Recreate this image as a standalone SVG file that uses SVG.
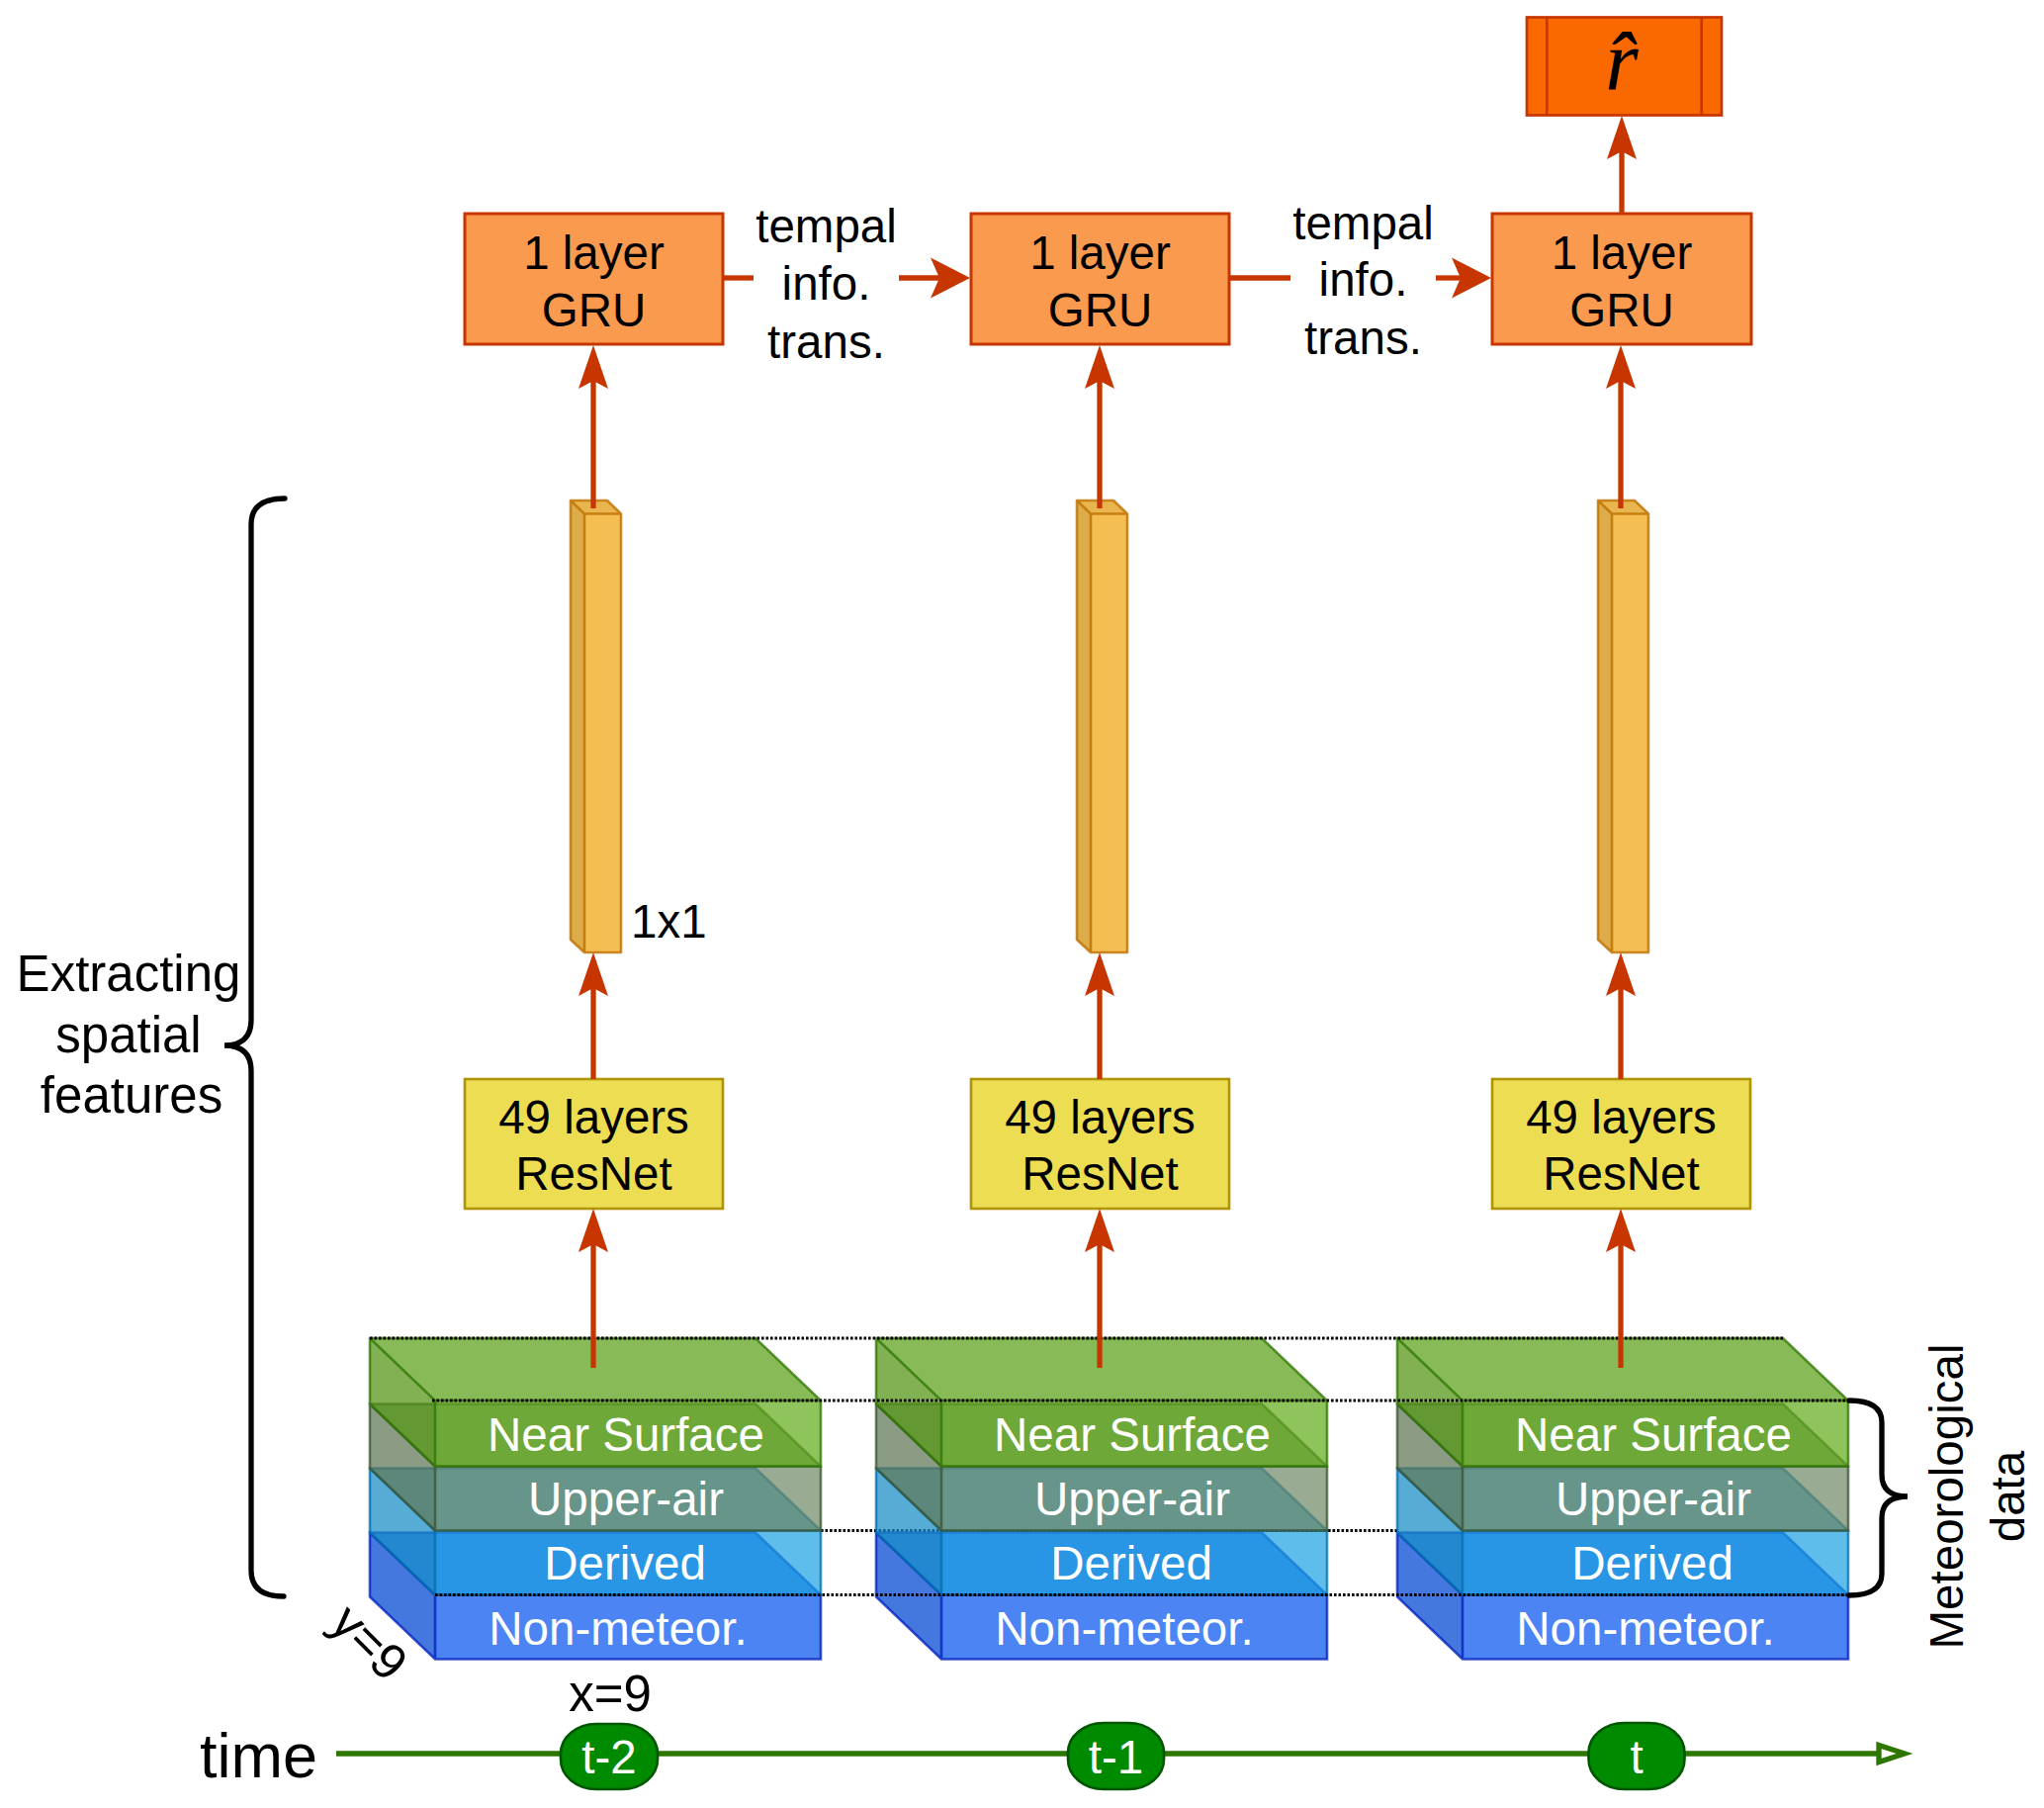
<svg xmlns="http://www.w3.org/2000/svg" width="2067" height="1828" viewBox="0 0 2067 1828">
<style>
text{font-family:"Liberation Sans",Arial,Helvetica,sans-serif;font-size:47.5px;fill:#000}
.mid{text-anchor:middle}
.w{fill:#fff}
.big{font-size:51px}
.gru{fill:#FA9A4F;stroke:#C73500;stroke-width:3}
.res{fill:#ECDD52;stroke:#B09500;stroke-width:2.6}
.vecf{fill:#F0A30A;fill-opacity:.7}
.vecs{fill:none;stroke:#BD7000;stroke-opacity:.8;stroke-width:2.6;stroke-linejoin:round}
.dk1{fill:#000;fill-opacity:.09}
.dk2{fill:#000;fill-opacity:.045}
.ns{fill:#60A917;fill-opacity:.7}
.nss{fill:none;stroke:#2D7600;stroke-opacity:.75;stroke-width:2.6}
.ua{fill:#6D8764;fill-opacity:.7}
.uas{fill:none;stroke:#3A5431;stroke-opacity:.75;stroke-width:2.6}
.dv{fill:#1BA1E2;fill-opacity:.7}
.dvs{fill:none;stroke:#006EAF;stroke-opacity:.75;stroke-width:2.6}
.nm{fill:#0050EF;fill-opacity:.7}
.nms{fill:none;stroke:#001DBC;stroke-opacity:.75;stroke-width:2.6}
.dot{fill:none;stroke:#000;stroke-width:3;stroke-dasharray:2.6 1.9}
.arr{fill:none;stroke:#C73500;stroke-width:5.3}
.brace{fill:none;stroke:#000;stroke-width:5.3;stroke-linecap:round}
.pill{fill:#008A00;stroke:#005700;stroke-width:2.6}
</style>
<defs>
<marker id="ahV" viewBox="-9 -16 46 32" markerWidth="46" markerHeight="32" refX="0" refY="0" markerUnits="userSpaceOnUse" orient="auto" overflow="visible">
<path d="M36,0 L-8,-15 L0,0 L-8,15 Z" fill="#C73500"/>
</marker>
<marker id="ahH" viewBox="-10 -22 43 44" markerWidth="43" markerHeight="44" refX="0" refY="0" markerUnits="userSpaceOnUse" orient="auto" overflow="visible">
<path d="M31,0 L-9,-20.5 L0,0 L-9,20.5 Z" fill="#C73500"/>
</marker>
<g id="stack">
<path class="nm" d="M0,196.5 L390,196.5 L456,259.5 L456,324.5 L66,324.5 L0,261.5 Z"/>
<path class="dk1" d="M0,196.5 L66,259.5 L66,324.5 L0,261.5 Z"/>
<path class="dk2" d="M0,196.5 L390,196.5 L456,259.5 L66,259.5 Z"/>
<path class="nms" d="M0,196.5 L390,196.5 L456,259.5 L456,324.5 L66,324.5 L0,261.5 Z M66,324.5 L66,259.5 L0,196.5 M66,259.5 L456,259.5"/>
<path class="dv" d="M0,131.5 L390,131.5 L456,194.5 L456,259.5 L66,259.5 L0,196.5 Z"/>
<path class="dk1" d="M0,131.5 L66,194.5 L66,259.5 L0,196.5 Z"/>
<path class="dk2" d="M0,131.5 L390,131.5 L456,194.5 L66,194.5 Z"/>
<path class="dvs" d="M0,131.5 L390,131.5 L456,194.5 L456,259.5 L66,259.5 L0,196.5 Z M66,259.5 L66,194.5 L0,131.5 M66,194.5 L456,194.5"/>
<path class="ua" d="M0,66.5 L390,66.5 L456,129.5 L456,194.5 L66,194.5 L0,131.5 Z"/>
<path class="dk1" d="M0,66.5 L66,129.5 L66,194.5 L0,131.5 Z"/>
<path class="dk2" d="M0,66.5 L390,66.5 L456,129.5 L66,129.5 Z"/>
<path class="uas" d="M0,66.5 L390,66.5 L456,129.5 L456,194.5 L66,194.5 L0,131.5 Z M66,194.5 L66,129.5 L0,66.5 M66,129.5 L456,129.5"/>
<path class="ns" d="M0,0 L390,0 L456,63 L456,129.5 L66,129.5 L0,66.5 Z"/>
<path class="dk1" d="M0,0 L66,63 L66,129.5 L0,66.5 Z"/>
<path class="dk2" d="M0,0 L390,0 L456,63 L66,63 Z"/>
<path class="nss" d="M0,0 L390,0 L456,63 L456,129.5 L66,129.5 L0,66.5 Z M66,129.5 L66,63 L0,0 M66,63 L456,63"/>
<text class="mid w" x="259" y="113.7">Near Surface</text>
<text class="mid w" x="259" y="179">Upper-air</text>
<text class="mid w" x="258" y="243.7">Derived</text>
<text class="mid w" x="251" y="309.7">Non-meteor.</text>
</g>
<g id="vec">
<path class="vecf" d="M0,0 L37,0 L51,13.5 L51,457 L14,457 L0,444 Z"/>
<path class="dk1" d="M0,0 L14,13.5 L14,457 L0,444 Z"/>
<path class="dk2" d="M0,0 L37,0 L51,13.5 L14,13.5 Z"/>
<path class="vecs" d="M0,0 L37,0 L51,13.5 L51,457 L14,457 L0,444 Z M14,457 L14,13.5 L0,0 M14,13.5 L51,13.5"/>
</g>
</defs>

<path class="dot" d="M830,1547.5 H1413"/>

<g id="data-t2"><use href="#stack" transform="translate(374,1353)"/></g>
<g id="data-t1"><use href="#stack" transform="translate(886,1353)"/></g>
<g id="data-t"><use href="#stack" transform="translate(1413,1353)"/></g>

<g id="guides">
<path class="dot" d="M374,1353 H1803"/>
<path class="dot" d="M437,1416 H1869"/>
<path class="dot" d="M440,1612.5 H1869"/>
</g>

<g id="resnet-t2"><rect class="res" x="470" y="1091" width="261" height="131"/><text class="mid" x="600.5" y="1146">49 layers</text><text class="mid" x="600.5" y="1203">ResNet</text></g>
<g id="resnet-t1"><rect class="res" x="982" y="1091" width="261" height="131"/><text class="mid" x="1112.5" y="1146">49 layers</text><text class="mid" x="1112.5" y="1203">ResNet</text></g>
<g id="resnet-t"><rect class="res" x="1509" y="1091" width="261" height="131"/><text class="mid" x="1639.5" y="1146">49 layers</text><text class="mid" x="1639.5" y="1203">ResNet</text></g>

<g id="vec-t2"><use href="#vec" transform="translate(577,506)"/></g>
<g id="vec-t1"><use href="#vec" transform="translate(1089,506)"/></g>
<g id="vec-t"><use href="#vec" transform="translate(1616,506)"/></g>
<text id="lbl-1x1" x="638" y="948">1x1</text>

<g id="gru-t2"><rect class="gru" x="470" y="216" width="261" height="132"/><text class="mid" x="600.5" y="272">1 layer</text><text class="mid" x="600.5" y="330">GRU</text></g>
<g id="gru-t1"><rect class="gru" x="982" y="216" width="261" height="132"/><text class="mid" x="1112.5" y="272">1 layer</text><text class="mid" x="1112.5" y="330">GRU</text></g>
<g id="gru-t"><rect class="gru" x="1509" y="216" width="262" height="132"/><text class="mid" x="1640" y="272">1 layer</text><text class="mid" x="1640" y="330">GRU</text></g>

<g id="output">
<rect x="1544" y="17.5" width="197" height="99" fill="#FA6800" stroke="#C73500" stroke-width="2.7"/>
<path d="M1564.3,17.5 V116.5 M1720.7,17.5 V116.5" stroke="#C73500" stroke-width="2.7" fill="none"/>
<text x="1640" y="91" text-anchor="middle" style="font-family:'Liberation Serif','Times New Roman',serif;font-style:italic;font-size:86px">r̂</text>
</g>

<g id="connectors">
<path class="arr" d="M731,281 H762"/>
<path class="arr" d="M909,281 H950" marker-end="url(#ahH)"/>
<path class="arr" d="M1243,281 H1305"/>
<path class="arr" d="M1452,281 H1477" marker-end="url(#ahH)"/>
<path class="arr" d="M600,1383 V1258" marker-end="url(#ahV)"/>
<path class="arr" d="M600,1091 V999" marker-end="url(#ahV)"/>
<path class="arr" d="M600,514 V385" marker-end="url(#ahV)"/>
<path class="arr" d="M1112,1383 V1258" marker-end="url(#ahV)"/>
<path class="arr" d="M1112,1091 V999" marker-end="url(#ahV)"/>
<path class="arr" d="M1112,514 V385" marker-end="url(#ahV)"/>
<path class="arr" d="M1639,1383 V1258" marker-end="url(#ahV)"/>
<path class="arr" d="M1639,1091 V999" marker-end="url(#ahV)"/>
<path class="arr" d="M1639,514 V385" marker-end="url(#ahV)"/>
<path class="arr" d="M1640,216 V153" marker-end="url(#ahV)"/>
</g>

<g id="edge-labels">
<text class="mid" x="835.5" y="245">tempal</text>
<text class="mid" x="835.5" y="303">info.</text>
<text class="mid" x="835.5" y="362">trans.</text>
<text class="mid" x="1378.5" y="242">tempal</text>
<text class="mid" x="1378.5" y="299">info.</text>
<text class="mid" x="1378.5" y="358">trans.</text>
</g>

<g id="brace-spatial">
<path class="brace" d="M288,504 Q254,504 254,530 L254,1031 Q254,1057 227,1057 Q254,1057 254,1083 L254,1588 Q254,1614 287,1614"/>
<text class="mid big" x="130" y="1002">Extracting</text>
<text class="mid big" x="130" y="1064">spatial</text>
<text class="mid big" x="133" y="1125">features</text>
</g>

<g id="brace-meteo">
<path class="brace" d="M1870,1416 Q1903,1416 1903,1438 L1903,1491 Q1903,1513 1929,1513 Q1903,1513 1903,1535 L1903,1591 Q1903,1613 1870,1613"/>
<text class="mid" transform="translate(1985,1513) rotate(-90)" x="0" y="0">Meteorological</text>
<text class="mid" transform="translate(2047,1513) rotate(-90)" x="0" y="0">data</text>
</g>

<g id="dims">
<text class="mid big" x="617" y="1730">x=9</text>
<text class="mid big" transform="translate(374,1660) rotate(45)" x="0" y="18">y=9</text>
</g>

<g id="timeline">
<text x="202" y="1797" style="font-size:63px">time</text>
<path d="M340,1773 H1898" stroke="#2D7600" stroke-width="5.3" fill="none"/>
<polygon points="1900,1764.5 1926,1773 1900,1781.5" fill="#fff" stroke="#2D7600" stroke-width="5.3"/>
<g id="t-2"><rect class="pill" x="567" y="1743" width="98" height="66" rx="36" ry="30"/><text class="mid w" x="616" y="1793">t-2</text></g>
<g id="t-1"><rect class="pill" x="1080" y="1742" width="97" height="67" rx="36" ry="30"/><text class="mid w" x="1128.5" y="1793">t-1</text></g>
<g id="t"><rect class="pill" x="1606.5" y="1742" width="97" height="67" rx="36" ry="30"/><text class="mid w" x="1655" y="1793">t</text></g>
</g>
</svg>
